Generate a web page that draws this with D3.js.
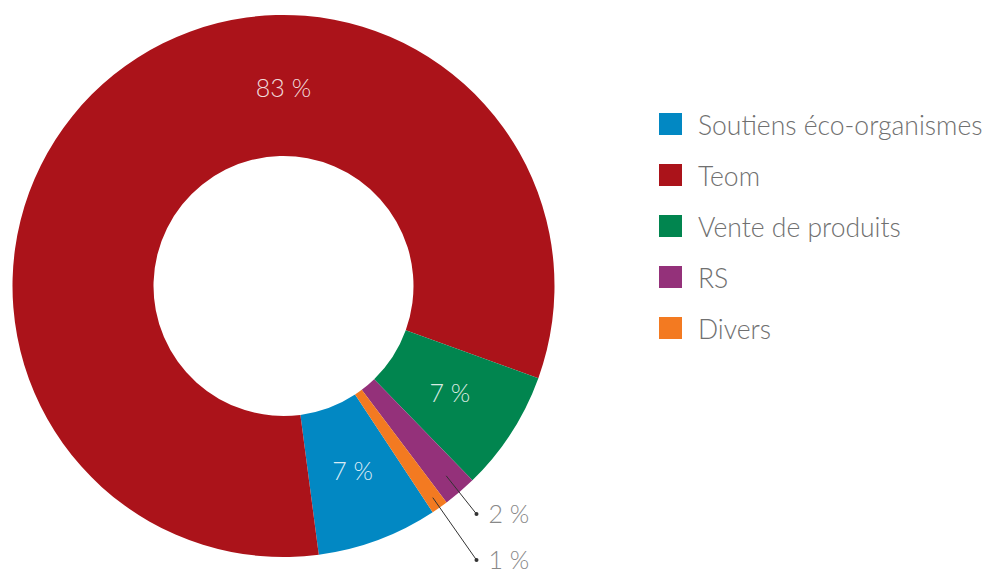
<!DOCTYPE html>
<html>
<head>
<meta charset="utf-8">
<script src="https://cdn.jsdelivr.net/npm/d3@7"></script>
<style>
  body { margin: 0; background: #fff; }
  svg text { font-family: Lato, "Open Sans", sans-serif; }
</style>
</head>
<body>
<div id="chart"></div>
<script>
//// donut of revenue shares, legend on the right
const categories = ["Soutiens éco-organismes", "Teom", "Vente de produits", "RS", "Divers"];
const values = [7.2, 82.6, 7.2, 2.0, 1.0];
const labels = ["7 %", "83 %", "7 %", "2 %", "1 %"];
const colors = ["#0288c3", "#ab131a", "#01854f", "#94317a", "#f37a21"];
const outside = [false, false, false, true, true]; //// small slices get a leader line

const width = 992, height = 569;
const cx = 283.5, cy = 286;
const outerR = 271, innerR = 130;

const svg = d3.select("#chart").append("svg")
    .attr("width", width)
    .attr("height", height);

const g = svg.append("g").attr("transform", `translate(${cx},${cy})`);

const data = categories.map((c, i) => ({ name: c, value: values[i], label: labels[i], color: colors[i], out: outside[i] }));

const pie = d3.pie()
    .sort(null)
    .value(d => d.value)
    .startAngle(146.6 * Math.PI / 180)
    .endAngle(146.6 * Math.PI / 180 + 2 * Math.PI);

const arc = d3.arc().innerRadius(innerR).outerRadius(outerR);
const arcs = pie(data);

g.selectAll("path.slice")
    .data(arcs)
  .enter().append("path")
    .attr("class", "slice")
    .attr("d", arc)
    .attr("fill", d => d.data.color);

//// labels inside the ring
const midR = 198;
arcs.forEach(d => {
  if (d.data.out) return;
  //// the big slice gets its label at the top
  const a = d.data.name === "Teom" ? 0 : (d.startAngle + d.endAngle) / 2;
  g.append("text")
      .attr("x", Math.sin(a) * midR)
      .attr("y", -Math.cos(a) * midR)
      .attr("text-anchor", "middle")
      .attr("dy", "0.35em")
      .attr("fill", "rgba(255,255,255,0.85)")
      .style("font-size", "25px")
      .style("font-weight", "300")
      .text(d.data.label);
});

//// leader lines for the small slices
const small = arcs.filter(d => d.data.out);
const endX = 193;
const endY = [228, 274];
small.forEach((d, i) => {
  const a = (d.startAngle + d.endAngle) / 2;
  const r0 = 250 + i * 9;
  const x0 = Math.sin(a) * r0, y0 = -Math.cos(a) * r0;
  g.append("line")
      .attr("x1", x0).attr("y1", y0)
      .attr("x2", endX).attr("y2", endY[i])
      .attr("stroke", "#333")
      .attr("stroke-width", 1);
  g.append("circle")
      .attr("cx", endX).attr("cy", endY[i])
      .attr("r", 2)
      .attr("fill", "#333");
  g.append("text")
      .attr("x", endX + 12).attr("y", endY[i])
      .attr("dy", "0.35em")
      .attr("fill", "#888")
      .style("font-size", "25px")
      .style("font-weight", "300")
      .text(d.data.label);
});

//// legend
const legend = svg.append("g").attr("transform", "translate(659,113)");
const item = legend.selectAll("g")
    .data(data)
  .enter().append("g")
    .attr("transform", (d, i) => `translate(0,${i * 51})`);

item.append("rect")
    .attr("width", 23)
    .attr("height", 22)
    .attr("fill", d => d.color);

item.append("text")
    .attr("x", 39)
    .attr("y", 12)
    .attr("dy", "0.38em")
    .attr("fill", "#707070")
    .style("font-size", "26.5px")
    .style("font-weight", "300")
    .text(d => d.name);
</script>
</body>
</html>
